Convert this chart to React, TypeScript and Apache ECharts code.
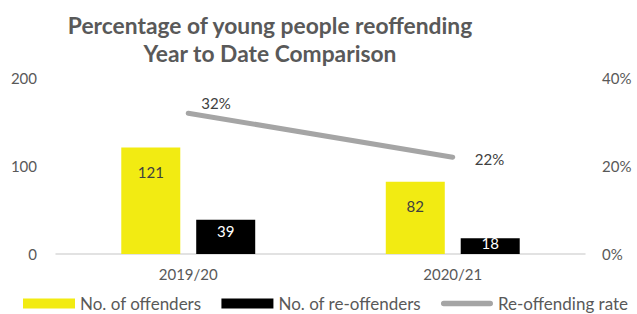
import React, { useEffect, useRef } from "react";
import * as echarts from "echarts";

const categories = ["2019/20", "2020/21"];
const offenders = [121, 82];
const reoffenders = [39, 18];
const reoffendingRate = [0.32, 0.22];
const leftTicks = [0, 100, 200];
const rightTicks = [0, 0.2, 0.4];

const FONT = "Lato, 'Liberation Sans', sans-serif";
const TEXT = "#595959";

export default function App() {
  const ref = useRef<HTMLDivElement>(null);
  useEffect(() => {
    if (!ref.current) return;
    const chart = echarts.init(ref.current, undefined, { renderer: "svg" });
    const blackDist = [4, -3];
    const rateLabel = [
      { distance: 13, offset: [0, -10] },
      { distance: 22, offset: [0, 2] },
    ];
    chart.setOption({
      animation: false,
      textStyle: { fontFamily: FONT },
      title: {
        text: "Percentage of young people reoffending\nYear to Date Comparison",
        left: 265,
        top: 6,
        textAlign: "center",
        textStyle: {
          fontFamily: FONT,
          fontSize: 22.8,
          fontWeight: "bold",
          color: TEXT,
          lineHeight: 28,
        },
      },
      grid: { left: 56, right: 52, top: 78, bottom: 60, containLabel: false },
      legend: {
        bottom: -3,
        left: 18,
        itemWidth: 52,
        itemHeight: 10,
        itemGap: 20,
        symbolKeepAspect: true,
        textStyle: { fontFamily: FONT, fontSize: 17, color: TEXT },
        data: [
          { name: "No. of offenders", icon: "rect" },
          { name: "No. of re-offenders", icon: "rect" },
          {
            name: "Re-offending rate",
            icon: "path://M3,0 H54 A3,3 0 0 1 54,6 H3 A3,3 0 0 1 3,0 Z",
          },
        ],
      },
      xAxis: {
        type: "category",
        data: categories,
        axisLine: { lineStyle: { color: "#D9D9D9", width: 1.5 } },
        axisTick: { show: false },
        axisLabel: { color: TEXT, fontSize: 15, fontFamily: FONT, margin: 12 },
      },
      yAxis: [
        {
          type: "value",
          min: leftTicks[0],
          max: leftTicks[leftTicks.length - 1],
          interval: leftTicks[1] - leftTicks[0],
          splitLine: { show: false },
          axisLine: { show: false },
          axisTick: { show: false },
          axisLabel: { color: TEXT, fontSize: 15, fontFamily: FONT, margin: 19 },
        },
        {
          type: "value",
          min: rightTicks[0],
          max: rightTicks[rightTicks.length - 1],
          interval: rightTicks[1] - rightTicks[0],
          splitLine: { show: false },
          axisLine: { show: false },
          axisTick: { show: false },
          axisLabel: {
            color: TEXT,
            fontSize: 15,
            fontFamily: FONT,
            margin: 17,
            formatter: (v: number) => Math.round(v * 100) + "%",
          },
        },
      ],
      series: [
        {
          name: "No. of offenders",
          type: "bar",
          barWidth: 59,
          barGap: "27%",
          itemStyle: { color: "#F2EB12" },
          label: {
            show: true,
            position: "insideTop",
            distance: 17,
            color: "#404040",
            fontSize: 15,
            fontFamily: FONT,
          },
          data: offenders,
        },
        {
          name: "No. of re-offenders",
          type: "bar",
          barWidth: 59,
          itemStyle: { color: "#000000" },
          label: {
            show: true,
            position: "insideTop",
            color: "#FFFFFF",
            fontSize: 15,
            fontFamily: FONT,
          },
          data: reoffenders.map((v, i) => ({ value: v, label: { distance: blackDist[i] } })),
        },
        {
          name: "Re-offending rate",
          type: "line",
          yAxisIndex: 1,
          symbol: "circle",
          symbolSize: 0,
          showSymbol: true,
          itemStyle: { color: "#A5A5A5" },
          lineStyle: { color: "#A5A5A5", width: 5, cap: "round" },
          label: {
            show: true,
            position: "right",
            color: "#404040",
            fontSize: 15,
            fontFamily: FONT,
            formatter: (p: any) => Math.round(p.value * 100) + "%",
          },
          data: reoffendingRate.map((v, i) => ({ value: v, label: rateLabel[i] })),
        },
      ],
    });
    return () => chart.dispose();
  }, []);
  return <div ref={ref} style={{ width: 637, height: 314, position: "absolute", left: 0, top: 0 }} />;
}
